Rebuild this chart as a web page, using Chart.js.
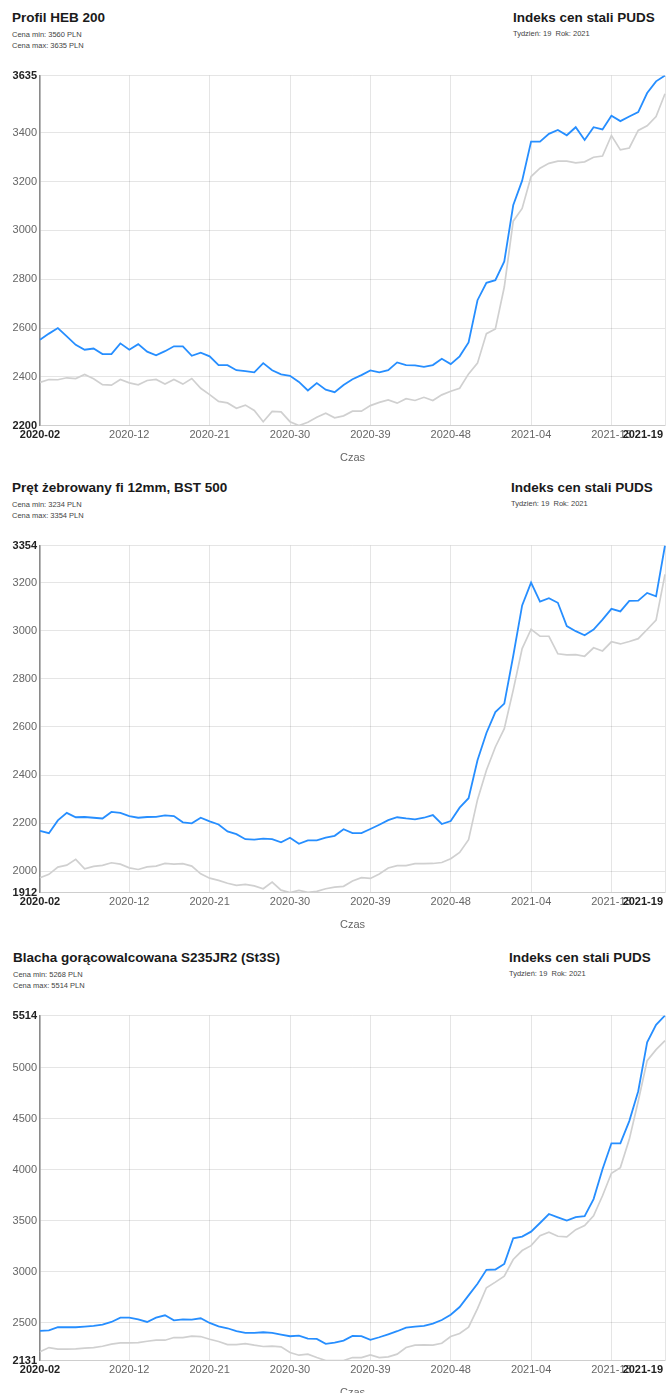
<!DOCTYPE html>
<html lang="pl">
<head>
<meta charset="utf-8">
<title>Indeks cen stali PUDS</title>
<script src="https://cdn.jsdelivr.net/npm/chart.js@4.4.1/dist/chart.umd.min.js"></script>
<style>
    html, body { margin: 0; padding: 0; background: #fff; }
    body { width: 668px; height: 1393px; overflow: hidden; position: relative;
           font-family: 'Liberation Sans', Arial, sans-serif; }
    .block { position: absolute; left: 0; width: 668px; height: 470px; }
    .title { position: absolute; top: 10px; font-weight: bold; font-size: 13.5px;
             line-height: 16px; color: #1a1a1a; white-space: nowrap; }
    .info { position: absolute; font-size: 7.5px; line-height: 9px; color: #444; white-space: nowrap; }
    .block canvas { position: absolute; left: 0; top: 60px; }
</style>
</head>
<body>

<div class="block" style="top:0px">
    <div class="title" style="left:12px">Profil HEB 200</div>
    <div class="info" style="left:12px; top:29.5px">Cena min: 3560 PLN</div>
    <div class="info" style="left:12px; top:40.5px">Cena max: 3635 PLN</div>
    <div class="title" style="left:513px">Indeks cen stali PUDS</div>
    <div class="info" style="left:513px; top:28.5px">Tydzień: 19&nbsp; Rok: 2021</div>
    <canvas id="chartHeb" width="668" height="407"></canvas>
</div>

<div class="block" style="top:470px">
    <div class="title" style="left:12px">Pręt żebrowany fi 12mm, BST 500</div>
    <div class="info" style="left:12px; top:29.5px">Cena min: 3234 PLN</div>
    <div class="info" style="left:12px; top:40.5px">Cena max: 3354 PLN</div>
    <div class="title" style="left:511px">Indeks cen stali PUDS</div>
    <div class="info" style="left:511px; top:28.5px">Tydzień: 19&nbsp; Rok: 2021</div>
    <canvas id="chartPret" width="668" height="404"></canvas>
</div>

<div class="block" style="top:940px">
    <div class="title" style="left:13px">Blacha gorącowalcowana S235JR2 (St3S)</div>
    <div class="info" style="left:13px; top:29.5px">Cena min: 5268 PLN</div>
    <div class="info" style="left:13px; top:40.5px">Cena max: 5514 PLN</div>
    <div class="title" style="left:509px">Indeks cen stali PUDS</div>
    <div class="info" style="left:509px; top:28.5px">Tydzień: 19&nbsp; Rok: 2021</div>
    <canvas id="chartBlacha" width="668" height="402"></canvas>
</div>

<script>
// Weeks on the x axis (2020-02 .. 2021-19)
const weeks = [
    '2020-02','2020-03','2020-04','2020-05','2020-06','2020-07','2020-08','2020-09','2020-10','2020-11',
    '2020-12','2020-13','2020-14','2020-15','2020-16','2020-17','2020-18','2020-19','2020-20','2020-21',
    '2020-22','2020-23','2020-24','2020-25','2020-26','2020-27','2020-28','2020-29','2020-30','2020-31',
    '2020-32','2020-33','2020-34','2020-35','2020-36','2020-37','2020-38','2020-39','2020-40','2020-41',
    '2020-42','2020-43','2020-44','2020-45','2020-46','2020-47','2020-48','2020-49','2020-50','2020-51',
    '2020-52','2020-53','2021-01','2021-02','2021-03','2021-04','2021-05','2021-06','2021-07','2021-08',
    '2021-09','2021-10','2021-11','2021-12','2021-13','2021-14','2021-15','2021-16','2021-17','2021-18',
    '2021-19'
];

// Week labels shown under the axis
const xTickLabels = ['2020-02', '2020-12', '2020-21', '2020-30', '2020-39', '2020-48', '2021-04', '2021-13', '2021-19'];

// Profil HEB 200
const hebMax = [
    2552, 2577, 2600, 2566, 2531, 2511, 2516, 2493, 2493, 2537,
    2511, 2534, 2503, 2488, 2505, 2525, 2525, 2486, 2499, 2484,
    2448, 2448, 2427, 2423, 2418, 2456, 2427, 2410, 2404, 2379,
    2344, 2374, 2347, 2337, 2366, 2390, 2407, 2426, 2418, 2427,
    2459, 2448, 2447, 2441, 2448, 2474, 2452, 2484, 2541, 2714,
    2785, 2796, 2873, 3103, 3204, 3364, 3364, 3396, 3412, 3390,
    3423, 3371, 3423, 3414, 3470, 3448, 3467, 3485, 3563, 3611,
    3635
];
const hebMin = [
    2377, 2389, 2388, 2396, 2393, 2410, 2392, 2368, 2366, 2389,
    2375, 2367, 2385, 2389, 2370, 2389, 2370, 2393, 2353, 2327,
    2299, 2293, 2271, 2284, 2262, 2216, 2258, 2256, 2216, 2200,
    2214, 2234, 2251, 2232, 2240, 2259, 2259, 2282, 2295, 2305,
    2292, 2310, 2303, 2316, 2303, 2326, 2341, 2353, 2412, 2456,
    2577, 2596, 2768, 3038, 3090, 3221, 3255, 3275, 3284, 3284,
    3277, 3281, 3300, 3305, 3389, 3330, 3338, 3410, 3429, 3467,
    3560
];
const hebTicks = [2200, 2400, 2600, 2800, 3000, 3200, 3400, 3635];

// Pręt żebrowany fi 12mm, BST 500
const pretMax = [
    2168, 2159, 2212, 2243, 2225, 2226, 2223, 2220, 2247, 2243,
    2230, 2223, 2226, 2227, 2233, 2230, 2204, 2200, 2223, 2208,
    2195, 2166, 2155, 2134, 2132, 2136, 2134, 2121, 2140, 2115,
    2129, 2129, 2140, 2148, 2175, 2159, 2159, 2176, 2194, 2213,
    2225, 2220, 2216, 2223, 2234, 2197, 2209, 2265, 2304, 2462,
    2575, 2662, 2697, 2895, 3105, 3200, 3121, 3135, 3116, 3019,
    2998, 2981, 3005, 3046, 3091, 3080, 3124, 3125, 3157, 3143,
    3354
];
const pretMin = [
    1974, 1988, 2018, 2026, 2050, 2011, 2021, 2025, 2036, 2030,
    2015, 2008, 2019, 2022, 2033, 2030, 2032, 2022, 1990, 1972,
    1963, 1951, 1942, 1946, 1940, 1928, 1956, 1922, 1912, 1921,
    1913, 1917, 1928, 1935, 1938, 1960, 1974, 1971, 1989, 2014,
    2024, 2024, 2032, 2032, 2033, 2037, 2053, 2079, 2132, 2298,
    2420, 2517, 2593, 2753, 2926, 3006, 2977, 2977, 2904, 2900,
    2901, 2894, 2929, 2916, 2954, 2945, 2955, 2967, 3005, 3044,
    3234
];
const pretTicks = [1912, 2000, 2200, 2400, 2600, 2800, 3000, 3200, 3354];

// Blacha gorącowalcowana S235JR2 (St3S)
const blachaMax = [
    2422, 2428, 2458, 2458, 2458, 2464, 2471, 2484, 2510, 2552,
    2552, 2536, 2510, 2552, 2575, 2526, 2536, 2533, 2546, 2500,
    2467, 2448, 2419, 2402, 2402, 2409, 2402, 2386, 2370, 2376,
    2347, 2344, 2295, 2308, 2327, 2373, 2370, 2334, 2360, 2389,
    2419, 2454, 2464, 2471, 2493, 2529, 2581, 2656, 2770, 2884,
    3021, 3024, 3079, 3330, 3346, 3395, 3480, 3568, 3535, 3503,
    3538, 3548, 3714, 4007, 4261, 4261, 4479, 4772, 5251, 5423,
    5514
];
const blachaMin = [
    2217, 2259, 2243, 2243, 2246, 2253, 2259, 2272, 2292, 2305,
    2305, 2308, 2321, 2331, 2331, 2357, 2357, 2370, 2367, 2340,
    2318, 2288, 2288, 2298, 2282, 2269, 2272, 2266, 2210, 2184,
    2194, 2161, 2132, 2131, 2132, 2161, 2161, 2187, 2161, 2168,
    2194, 2259, 2282, 2285, 2282, 2301, 2367, 2396, 2458, 2640,
    2845, 2900, 2959, 3122, 3210, 3258, 3356, 3389, 3350, 3343,
    3415, 3454, 3551, 3747, 3968, 4023, 4300, 4674, 5072, 5179,
    5268
];
const blachaTicks = [2131, 2500, 3000, 3500, 4000, 4500, 5000, 5514];

const FONT = "'Liberation Sans', Arial, sans-serif";
const TICK_SIZE = 11;

/**
 * Last week label is drawn right-aligned at the end of the axis
 */
const lastWeekLabel = {
    id: 'lastWeekLabel',
    afterDraw(chart) {
        const xs = chart.scales.x;
        const ctx = chart.ctx;
        ctx.save();
        ctx.font = 'bold ' + TICK_SIZE + 'px ' + FONT;
        ctx.fillStyle = '#222';
        ctx.textAlign = 'right';
        ctx.textBaseline = 'middle';
        ctx.fillText(weeks[weeks.length - 1], chart.chartArea.right - 2, xs.top + 3 + TICK_SIZE * 0.6);
        ctx.restore();
    }
};

// bold + dark for the first and last tick of an axis
function isEdge(ctx, lo, hi) {
    return !!(ctx && ctx.tick && (ctx.tick.value === lo || ctx.tick.value === hi));
}

function edgeFont(lo, hi) {
    return (ctx) => ({ family: FONT, size: TICK_SIZE, weight: isEdge(ctx, lo, hi) ? 'bold' : 'normal' });
}

function edgeColor(lo, hi) {
    return (ctx) => isEdge(ctx, lo, hi) ? '#222' : '#666';
}

/**
 * One price chart: max price (blue) over min price (grey)
 */
function makeChart(id, maxData, minData, yTicks) {
    const canvas = document.getElementById(id);
    const yLo = yTicks[0];
    const yHi = yTicks[yTicks.length - 1];
    const xHi = weeks.length - 1;

    return new Chart(canvas, {
        type: 'line',
        data: {
            labels: weeks,
            datasets: [
                {
                    label: 'Cena max',
                    data: maxData,
                    borderColor: 'rgb(38, 142, 255)',
                    borderWidth: 1.8,
                    pointRadius: 0,
                    tension: 0,
                    fill: false
                },
                {
                    label: 'Cena min',
                    data: minData,
                    borderColor: 'rgb(208, 208, 208)',
                    borderWidth: 1.7,
                    pointRadius: 0,
                    tension: 0,
                    fill: false
                }
            ]
        },
        options: {
            responsive: false,
            devicePixelRatio: 1,
            animation: false,
            events: [],
            layout: { padding: { top: 15.5, right: 3, left: 0, bottom: 0 } },
            plugins: {
                legend: { display: false },
                tooltip: { enabled: false }
            },
            scales: {
                x: {
                    type: 'category',
                    afterBuildTicks: (scale) => {
                        scale.ticks = xTickLabels.map(l => ({ value: weeks.indexOf(l) }));
                    },
                    grid: { drawTicks: false, color: 'rgba(0,0,0,0.1)' },
                    border: { color: 'rgba(0,0,0,0.1)' },
                    ticks: {
                        autoSkip: false,
                        maxRotation: 0,
                        padding: 3,
                        font: edgeFont(0, xHi),
                        color: edgeColor(0, xHi),
                        callback: function(value) {
                            return value === xHi ? '' : weeks[value];
                        }
                    },
                    title: {
                        display: true,
                        text: 'Czas',
                        color: '#666',
                        font: { family: FONT, size: TICK_SIZE },
                        padding: { top: 7, bottom: 2 }
                    }
                },
                y: {
                    type: 'linear',
                    min: yLo,
                    max: yHi,
                    afterBuildTicks: (scale) => {
                        scale.ticks = yTicks.map(v => ({ value: v }));
                    },
                    afterFit: (scale) => { scale.width = 40; },
                    grid: { drawTicks: false, color: 'rgba(0,0,0,0.1)' },
                    border: { color: '#8a8a8a', width: 1.5 },
                    ticks: {
                        padding: 3,
                        font: edgeFont(yLo, yHi),
                        color: edgeColor(yLo, yHi),
                        callback: (value) => String(value)
                    }
                }
            }
        },
        plugins: [lastWeekLabel]
    });
}

document.addEventListener('DOMContentLoaded', () => {
    makeChart('chartHeb', hebMax, hebMin, hebTicks);
    makeChart('chartPret', pretMax, pretMin, pretTicks);
    makeChart('chartBlacha', blachaMax, blachaMin, blachaTicks);
});
</script>
</body>
</html>
